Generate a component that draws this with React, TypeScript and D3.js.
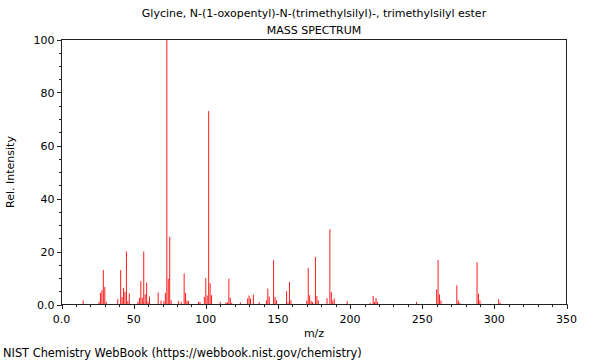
import React from "react";
import * as d3 from "d3";

const titleLine1 = "Glycine, N-(1-oxopentyl)-N-(trimethylsilyl)-, trimethylsilyl ester";
const titleLine2 = "MASS SPECTRUM";
const xLabel = "m/z";
const yLabel = "Rel. Intensity";
const footer = "NIST Chemistry WebBook (https://webbook.nist.gov/chemistry)";

const mz = [15, 26, 27, 28, 29, 30, 31, 39, 41, 42, 43, 44, 45, 46, 47, 53, 54, 55, 56, 57, 58, 59, 60, 61,
  67, 69, 71, 72, 73, 74, 75, 76, 81, 83, 85, 86, 87, 88, 95, 96, 99, 100, 101, 102, 103, 104, 110, 114, 115,
  116, 117, 118, 124, 129, 130, 131, 133, 137, 142, 143, 144, 147, 148, 149, 156, 157, 158, 159, 170, 171, 172,
  173, 174, 176, 177, 178, 184, 186, 187, 188, 189, 198, 214, 216, 217, 218, 219, 246, 260, 261, 262, 263,
  274, 275, 276, 288, 289, 290, 303, 304];
const intensity = [1.5, 1, 4.4, 5.4, 13, 6.6, 1, 2, 13, 2.8, 6.3, 4.8, 20, 1.3, 4.2, 1, 2.5, 8.8, 2.5, 20, 3.8, 8.3, 1, 3,
  4.5, 1.5, 1.3, 4.4, 100, 9.7, 25.5, 1.6, 1.3, 1, 11.7, 4.4, 1.5, 1.3, 1, 1, 2.9, 10, 3.4, 73, 8, 3.5, 1, 0.8, 0.8,
  9.7, 2.5, 0.6, 0.8, 2.3, 3.4, 2.3, 3.7, 0.9, 1.6, 6, 3, 16.7, 2.8, 1.6, 5, 0.8, 8.5, 1.6, 1.5, 13.8, 3.5,
  1.3, 0.9, 17.9, 3.2, 1.5, 2.4, 28.4, 4.7, 1.5, 2.3, 1.3, 0.6, 3.2, 1, 2.5, 1, 1, 5.7, 16.8, 3.8, 1.5,
  7.2, 1.5, 0.6, 16, 4, 1.5, 2, 0.6];

const xTicks = [0, 50, 100, 150, 200, 250, 300, 350];
const yTicks = [0, 20, 40, 60, 80, 100];

export default function App() {
  const W = 600, H = 360;
  const left = 61.5, right = 566.5, top = 39.5, bottom = 304.5;
  const x = d3.scaleLinear().domain([0, 350]).range([left, right]);
  const y = d3.scaleLinear().domain([0, 100]).range([bottom, top]);
  const font = "DejaVu Sans, sans-serif";
  const xMinor = d3.range(0, 351, 10);
  const yMinor = d3.range(0, 101, 5);
  return (
    <svg width={W} height={H} style={{ position: "absolute", left: 0, top: 0, background: "#fff" }} fontFamily={font}>
      <text x={314} y={17} textAnchor="middle" fontSize={11}>{titleLine1}</text>
      <text x={314} y={34} textAnchor="middle" fontSize={11}>{titleLine2}</text>
      {mz.map((m, i) => (
        <line key={i} x1={x(m)} x2={x(m)} y1={y(0)} y2={y(intensity[i])} stroke="#ff0000" strokeWidth={0.9} />
      ))}
      <rect x={left} y={top} width={right - left} height={bottom - top} fill="none" stroke="#222" strokeWidth={1} />
      {xMinor.map((t) => (
        <line key={"xm" + t} x1={Math.round(x(t)) + 0.5} x2={Math.round(x(t)) + 0.5} y1={bottom} y2={bottom + 2.5} stroke="#222" strokeWidth={1} />
      ))}
      {xTicks.map((t) => (
        <g key={"x" + t}>
          <line x1={Math.round(x(t)) + 0.5} x2={Math.round(x(t)) + 0.5} y1={bottom} y2={bottom + 4.5} stroke="#222" strokeWidth={1} />
          <text x={x(t)} y={bottom + 18} textAnchor="middle" fontSize={11}>{t === 0 ? "0.0" : t}</text>
        </g>
      ))}
      {yMinor.map((t) => (
        <line key={"ym" + t} x1={left - 2.5} x2={left} y1={Math.round(y(t)) + 0.5} y2={Math.round(y(t)) + 0.5} stroke="#222" strokeWidth={1} />
      ))}
      {yTicks.map((t) => (
        <g key={"y" + t}>
          <line x1={left - 4.5} x2={left} y1={Math.round(y(t)) + 0.5} y2={Math.round(y(t)) + 0.5} stroke="#222" strokeWidth={1} />
          <text x={left - 7} y={y(t) + 4} textAnchor="end" fontSize={11}>{t === 0 ? "0.0" : t}</text>
        </g>
      ))}
      <text x={314} y={337} textAnchor="middle" fontSize={11}>{xLabel}</text>
      <text transform={`translate(14,${(top + bottom) / 2}) rotate(-90)`} textAnchor="middle" fontSize={11}>{yLabel}</text>
      <text x={3} y={357} fontSize={11.4}>{footer}</text>
    </svg>
  );
}
